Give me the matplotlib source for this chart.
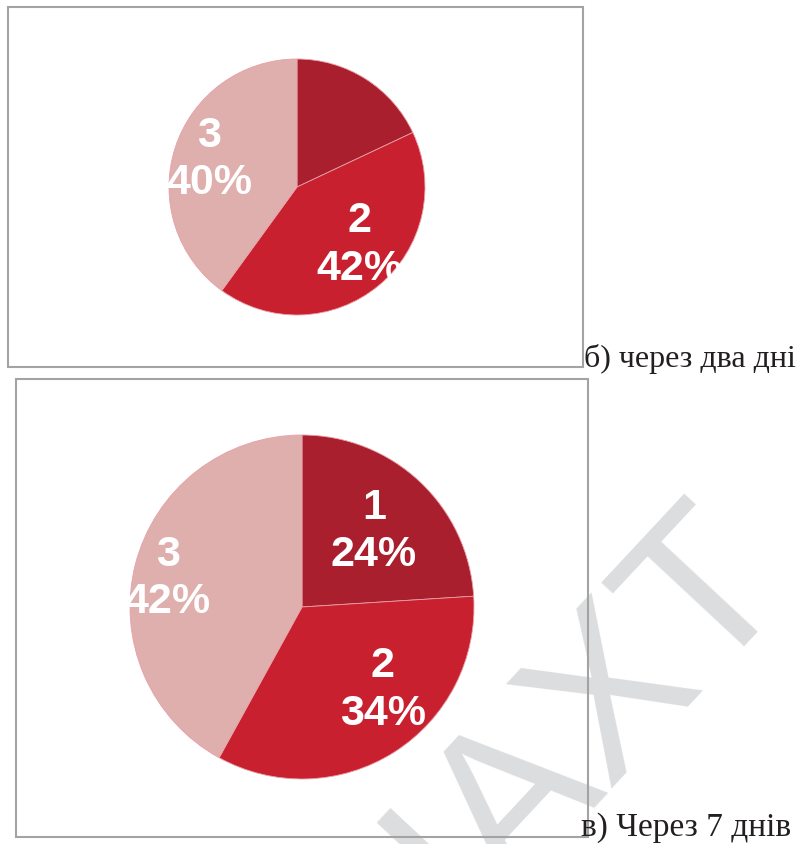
import matplotlib.pyplot as plt
from matplotlib.patches import Circle, Rectangle
import numpy as np

# data
groups = ["1", "2", "3"]
top_values = [18, 42, 40]
bottom_values = [24, 34, 42]
top_show = [False, True, True]  # slice 1 of the top chart has no label
bottom_show = [True, True, True]
colors = ["#A91F2E", "#C8202F", "#DEAFAC"]
captions = ["б) через два дні", "в) Через 7 днів"]

W, H = 800, 845
fig = plt.figure(figsize=(W / 100, H / 100), dpi=100)
ax = fig.add_axes([0, 0, 1, 1])


def py(y):
    # picture pixel row -> axis y (y goes up)
    return H - y


def draw_pie(values, show, center, radius, fsize, dists, shifts):
    wedges, _ = ax.pie(values, colors=colors, startangle=90, counterclock=False,
                       center=center, radius=radius, frame=True,
                       wedgeprops=dict(linewidth=0.6, edgecolor="#E8A0A8"))
    clip = Circle(center, radius, transform=ax.transData)
    for w, g, v, s, d, sh in zip(wedges, groups, values, show, dists, shifts):
        if not s:
            continue
        mid = np.deg2rad((w.theta1 + w.theta2) / 2 + sh)
        x = center[0] + d * radius * np.cos(mid)
        y = center[1] + d * radius * np.sin(mid)
        t = ax.text(x, y, f"{g}\n{v}%", ha="center", va="center", color="white",
                    fontsize=fsize, fontweight="bold", family="Liberation Sans",
                    linespacing=1.25, zorder=5)
        t.set_clip_path(clip)


# watermark behind the frames
ax.text(555, py(750), "НАХТ", rotation=47, ha="center", va="center",
        fontsize=155, color="#DCDDDF", family="Liberation Sans", zorder=0.5)

draw_pie(top_values, top_show, (297, py(188)), 128, 31,
         [0.73, 0.66, 0.72], [0, 8, 0])
draw_pie(bottom_values, bottom_show, (302, py(608)), 172, 31,
         [0.61, 0.67, 0.80], [0, 12, 2])

# frames around the two charts
ax.add_patch(Rectangle((8, py(368)), 575, 360, fill=False, edgecolor="#A3A3A3",
                       linewidth=1.5, zorder=3))
ax.add_patch(Rectangle((16, py(838)), 572, 458, fill=False, edgecolor="#A3A3A3",
                       linewidth=1.5, zorder=3))

ax.text(584, py(367), captions[0], ha="left", va="baseline", fontsize=23,
        family="Liberation Serif", color="#231F20")
ax.text(581, py(836), captions[1], ha="left", va="baseline", fontsize=24,
        family="Liberation Serif", color="#231F20")

ax.set_xlim(0, W)
ax.set_ylim(0, H)
ax.set_aspect("auto")
ax.axis("off")

fig.savefig("out.png", dpi=100)
